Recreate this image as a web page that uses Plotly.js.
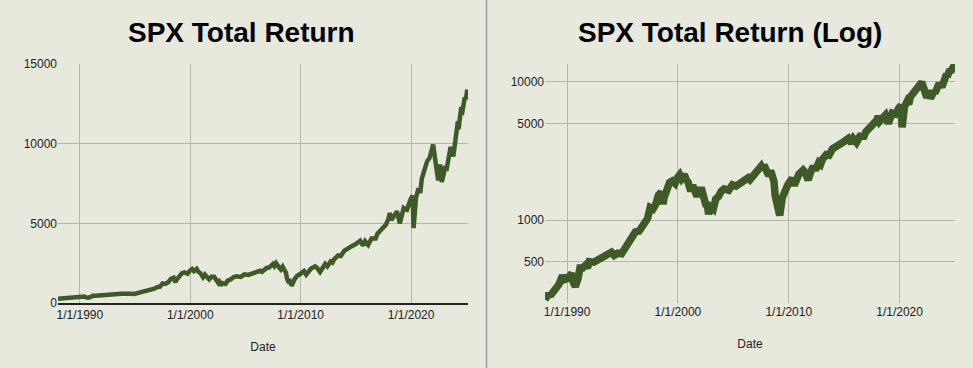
<!DOCTYPE html>
<html>
<head>
<meta charset="utf-8">
<script src="https://cdn.plot.ly/plotly-3.0.1.min.js"></script>
<style>
html,body{margin:0;padding:0;background:#e7e9dd;}
#chart{width:973px;height:368px;}
</style>
</head>
<body>
<div id="chart"></div>
<script>
// SPX total return
const dates = [
"1988-01-04","1988-04-01","1988-08-01","1988-12-01","1989-04-01","1989-08-01","1989-10-01","1990-01-01","1990-06-01","1990-08-01","1990-10-01",
"1991-01-01","1991-03-01","1991-06-01","1991-09-01","1991-11-01","1992-01-01","1992-06-01","1992-10-01","1993-01-01","1993-06-01","1993-10-01",
"1994-01-01","1994-04-01","1994-08-01","1994-12-01","1995-03-01","1995-06-01","1995-09-01","1995-12-01","1996-03-01","1996-07-01","1996-10-01",
"1997-01-01","1997-04-01","1997-07-01","1997-10-01","1998-01-01","1998-04-01","1998-07-01","1998-08-31","1998-10-01","1999-01-01","1999-04-01",
"1999-07-01","1999-10-01","2000-01-01","2000-03-01","2000-05-01","2000-08-01","2000-10-01","2000-12-01","2001-03-01","2001-05-01","2001-09-20",
"2001-12-01","2002-03-01","2002-06-01","2002-07-23","2002-08-20","2002-10-09","2002-12-01","2003-03-11","2003-06-01","2003-09-01","2003-12-01",
"2004-03-01","2004-08-01","2004-12-01","2005-04-01","2005-08-01","2005-12-01","2006-05-01","2006-07-01","2006-12-01","2007-03-01","2007-07-01",
"2007-08-15","2007-10-09","2008-01-20","2008-03-15","2008-05-15","2008-07-15","2008-09-01","2008-10-10","2008-11-20","2009-01-05","2009-03-09",
"2009-06-01","2009-09-01","2009-12-01","2010-04-20","2010-07-01","2010-12-01","2011-04-20","2011-06-15","2011-10-03","2011-12-01","2012-03-20",
"2012-06-01","2012-09-15","2012-11-15","2013-01-15","2013-05-20","2013-08-20","2013-12-15","2014-04-10","2014-08-01","2014-12-15","2015-05-20",
"2015-08-25","2015-11-01","2016-02-11","2016-06-01","2016-10-15","2016-12-15","2017-04-15","2017-09-15","2017-12-15","2018-01-26","2018-03-20",
"2018-09-20","2018-12-24","2019-04-30","2019-06-03","2019-08-15","2019-12-15","2020-02-19","2020-03-23","2020-04-20","2020-06-10","2020-09-02",
"2020-10-30","2020-12-20","2021-03-15","2021-06-15","2021-09-02","2021-12-31","2022-03-08","2022-06-16","2022-08-16","2022-10-12","2022-12-15",
"2023-02-02","2023-03-13","2023-07-31","2023-10-27","2023-12-29","2024-03-28","2024-04-19","2024-07-16","2024-08-05","2024-11-11","2024-12-20",
"2025-01-31"
];
const values = [
265,285,290,310,340,395,370,375,410,350,330,
380,450,450,470,450,500,495,510,540,555,575,
585,555,575,570,610,680,740,780,820,830,900,
1000,1020,1230,1200,1300,1520,1590,1300,1450,1720,1870,
1920,1840,2050,2130,2000,2140,1950,1880,1620,1780,1480,
1640,1640,1450,1250,1320,1100,1250,1200,1420,1480,1620,
1680,1640,1800,1760,1860,1900,2020,1960,2200,2230,2450,
2320,2500,2220,2100,2280,2050,1900,1500,1350,1380,1080,
1450,1700,1800,2000,1780,2150,2300,2230,1950,2150,2450,
2300,2600,2530,2750,2980,2950,3280,3380,3550,3680,3900,
3600,3880,3640,4050,4050,4350,4600,4900,5300,5650,5200,
5750,5000,5950,5900,5850,6500,6750,4700,5800,6600,7200,
6900,7800,8300,8900,9100,9950,9000,7700,8700,7600,8100,
8600,8300,9800,9200,10300,11400,10900,12300,11800,12900,12800,
13400
];
const dateTicks = ["1990-01-01","2000-01-01","2010-01-01","2020-01-01"];
const dateTickText = ["1/1/1990","1/1/2000","1/1/2010","1/1/2020"];
const linTicks = [0,5000,10000,15000];
const logTicks = [500,1000,5000,10000];
const titles = ["SPX Total Return","SPX Total Return (Log)"];
const xTitle = "Date";

const green = "#3d5a27";
const grid = "#b3b6aa";
const font = {family:"Liberation Sans, Arial, sans-serif", size:12, color:"#222"};

const traces = [
  {x:dates, y:values, type:"scatter", mode:"lines", line:{color:green, width:4.5}, xaxis:"x", yaxis:"y", hoverinfo:"skip"},
  {x:dates, y:values, type:"scatter", mode:"lines", line:{color:green, width:7.5}, xaxis:"x2", yaxis:"y2", hoverinfo:"skip"}
];

const yDom = [65/368, 304/368];
const layout = {
  width:973, height:368,
  margin:{l:0,r:0,t:0,b:0},
  paper_bgcolor:"#e7e9dd", plot_bgcolor:"#e7e9dd",
  font:font, showlegend:false,
  xaxis:{domain:[58/973, 468/973], type:"date", range:["1988-01-10","2025-02-25"],
    tickvals:dateTicks, ticktext:dateTickText, showgrid:true, gridcolor:grid, gridwidth:1,
    showline:true, linecolor:"#222", linewidth:1.5, zeroline:false, ticks:"", tickfont:font,
    title:{text:xTitle, font:font, standoff:21}, anchor:"y", automargin:false},
  yaxis:{domain:yDom, range:[0,15000], tickvals:linTicks, ticktext:linTicks.map(String),
    showgrid:true, gridcolor:grid, zeroline:false, showline:false, ticks:"", tickfont:font, anchor:"x", automargin:false},
  xaxis2:{domain:[545/973, 955/973], type:"date", range:["1988-01-04","2024-12-31"],
    tickvals:dateTicks, ticktext:dateTickText, showgrid:true, gridcolor:grid, gridwidth:1,
    showline:false, zeroline:false, ticks:"", tickfont:font,
    title:{text:xTitle, font:font, standoff:21}, anchor:"y2", automargin:false},
  yaxis2:{domain:yDom, type:"log", range:[2.399, 4.13], tickvals:logTicks, ticktext:logTicks.map(String),
    showgrid:true, gridcolor:grid, zeroline:false, showline:false, ticks:"", tickfont:font, anchor:"x2", automargin:false},
  annotations:[
    {text:"<b>"+titles[0]+"</b>", xref:"paper", yref:"paper", x:241/973, y:(368-32)/368, xanchor:"center", yanchor:"middle",
     showarrow:false, font:{family:"Liberation Sans, Arial, sans-serif", size:28, color:"#000"}},
    {text:"<b>"+titles[1]+"</b>", xref:"paper", yref:"paper", x:730/973, y:(368-32)/368, xanchor:"center", yanchor:"middle",
     showarrow:false, font:{family:"Liberation Sans, Arial, sans-serif", size:28, color:"#000"}}
  ],
  shapes:[
    {type:"line", xref:"paper", yref:"paper", x0:486.5/973, x1:486.5/973, y0:0, y1:1, line:{color:"#999", width:1.5}}
  ]
};
Plotly.newPlot("chart", traces, layout, {staticPlot:true, displayModeBar:false});
</script>
</body>
</html>
